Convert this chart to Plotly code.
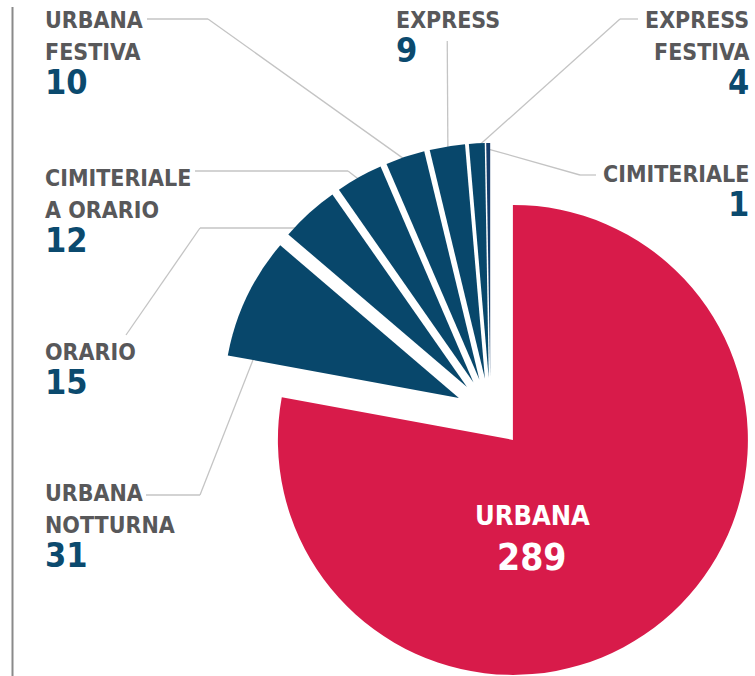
import math
import plotly.graph_objects as go

# ---------------- data ----------------
categories = ["URBANA", "URBANA NOTTURNA", "ORARIO", "CIMITERIALE A ORARIO",
              "URBANA FESTIVA", "EXPRESS", "EXPRESS FESTIVA", "CIMITERIALE"]
values = [289, 31, 15, 12, 10, 9, 4, 1]
label_lines = [["URBANA"], ["URBANA", "NOTTURNA"], ["ORARIO"], ["CIMITERIALE", "A ORARIO"],
               ["URBANA", "FESTIVA"], ["EXPRESS"], ["EXPRESS", "FESTIVA"], ["CIMITERIALE"]]
colors = ["#d81b4a", "#08476b", "#08476b", "#08476b", "#08476b", "#08476b", "#08476b", "#163d6b"]

# ---------------- layout constants (window pixels) ----------------
W, H = 755, 676
CX, CY = 490.5, 413.0      # centre of the un-pulled pie
R = 235.0                  # pie radius
PULL = 35.0                # explode distance of every slice
FONT = "DejaVu Sans Condensed, Liberation Sans Narrow, Roboto, sans-serif"
GREY = "#58585a"
NAVY = "#0b4a6e"
LEAD = "#c4c4c4"

def px(x):
    return x / W

def py(y):
    return 1 - y / H

total = sum(values)
mids = []
acc = 0
for v in values:
    mids.append((acc + v / 2) / total * 360)
    acc += v

def unit(deg):
    a = math.radians(deg)
    return math.sin(a), -math.cos(a)

fig = go.Figure()
for i, v in enumerate(values):
    ux, uy = unit(mids[i])
    ax, ay = CX + PULL * ux, CY + PULL * uy  # apex of exploded slice
    cols = ["rgba(0,0,0,0)"] * len(values)
    cols[i] = colors[i]
    fig.add_trace(go.Pie(
        labels=categories, values=values, sort=False, direction="clockwise", rotation=0,
        marker=dict(colors=cols, line=dict(width=0)),
        textinfo="none", hoverinfo="label+value", showlegend=False,
        domain=dict(x=[px(ax - R), px(ax + R)], y=[py(ay + R), py(ay - R)]),
    ))

def edge(i, extra=0.0):
    ux, uy = unit(mids[i])
    return CX + (PULL + R + extra) * ux, CY + (PULL + R + extra) * uy

shapes = []
def poly(points):
    for (x0, y0), (x1, y1) in zip(points[:-1], points[1:]):
        shapes.append(dict(type="line", xref="paper", yref="paper",
                           x0=px(x0), y0=py(y0), x1=px(x1), y1=py(y1),
                           line=dict(color=LEAD, width=1.3), layer="below"))

# leader lines (label end typed, slice end computed from the data)
poly([(146, 495), (200, 495), (262, 337)])                      # urbana notturna
poly([(126, 335), (200, 228), (edge(2)[0], 228)])                 # orario
poly([(195, 171), (348, 171), edge(3, -5)])                       # cimiteriale a orario
poly([(147, 19), (208, 19), edge(4, -4)])                         # urbana festiva
poly([(edge(5)[0], 41), edge(5, -4)])                            # express
poly([(638, 19), (620, 19), edge(6, -4)])                         # express festiva
poly([(596, 175), (580, 175), edge(7, -6)])                       # cimiteriale

# left rule
shapes.append(dict(type="line", xref="paper", yref="paper", x0=px(12.5), x1=px(12.5),
                   y0=py(7), y1=py(676), line=dict(color="#8a8a8a", width=2)))

annotations = []
def txt(x, y, s, size, color, anchor):
    annotations.append(dict(xref="paper", yref="paper", x=px(x), y=py(y), text=s,
                            showarrow=False, xanchor=anchor, yanchor="middle",
                            font=dict(family=FONT, size=size, color=color)))

LBL, VAL = 23, 34
# label blocks: (index, x, first line cap-centre y, anchor)
blocks = [(4, 43, 18.5, "left"), (3, 43, 176.5, "left"), (2, 43, 350.5, "left"),
          (1, 43, 492.0, "left"), (5, 394, 18.5, "left"), (6, 751, 18.5, "right"),
          (7, 751, 173.0, "right")]
for i, x, y0, anc in blocks:
    y = y0
    for k, line in enumerate(label_lines[i]):
        if k:
            y += 32
        txt(x, y + 1, "<b>%s</b>" % line, LBL, GREY, anc)
    txt(x, y + 31, "<b>%d</b>" % values[i], VAL, NAVY, anc)

# big slice label
txt(532, 515, "<b>%s</b>" % label_lines[0][0], 27, "white", "center")
txt(531, 557, "<b>%d</b>" % values[0], 37, "white", "center")

fig.update_layout(width=W, height=H, margin=dict(l=0, r=0, t=0, b=0),
                  paper_bgcolor="white", plot_bgcolor="white",
                  shapes=shapes, annotations=annotations)
fig.write_html("out.html", config={"displayModeBar": False},
               post_script="document.documentElement.style.overflow='hidden';"
                           "document.body.style.overflow='hidden';"
                           "document.body.style.margin='0';")
